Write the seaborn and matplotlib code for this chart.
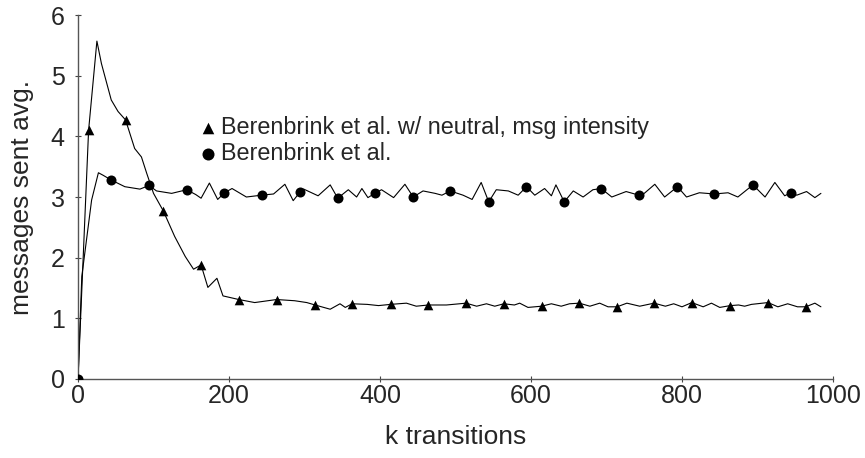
import pandas as pd
import seaborn as sns
import matplotlib.pyplot as plt

# Line data
tri_x = [0, 14, 25, 31, 44, 53, 63, 75, 84, 91, 100, 113, 128, 142, 153, 163, 172, 184, 192,
         213, 234, 263, 287, 303, 314, 334, 347, 354, 363, 383, 398, 414, 435, 448, 464, 488,
         514, 528, 541, 552, 564, 578, 585, 596, 614, 627, 640, 651, 664, 678, 691, 702, 714,
         727, 744, 763, 778, 789, 800, 813, 828, 839, 850, 864, 875, 883, 892, 914, 927, 940,
         953, 964, 976, 984]
tri_y = [0, 4.10, 5.57, 5.20, 4.60, 4.41, 4.27, 3.80, 3.66, 3.39, 3.06, 2.77, 2.35, 2.02, 1.81,
         1.88, 1.51, 1.66, 1.37, 1.31, 1.26, 1.31, 1.29, 1.26, 1.22, 1.15, 1.24, 1.18, 1.24,
         1.23, 1.21, 1.23, 1.25, 1.20, 1.22, 1.22, 1.25, 1.20, 1.24, 1.20, 1.24, 1.22, 1.25,
         1.18, 1.20, 1.24, 1.20, 1.24, 1.25, 1.20, 1.25, 1.19, 1.19, 1.25, 1.20, 1.25, 1.20,
         1.24, 1.19, 1.26, 1.19, 1.25, 1.18, 1.21, 1.22, 1.20, 1.23, 1.26, 1.19, 1.24, 1.19,
         1.19, 1.25, 1.19]

circ_x = [0, 5, 18, 27, 33, 44, 62, 82, 94, 104, 124, 144, 156, 163, 174, 185, 194, 204, 223,
          243, 259, 274, 285, 294, 299, 318, 334, 344, 358, 369, 376, 384, 393, 402, 418, 433,
          444, 457, 473, 482, 493, 510, 522, 534, 544, 554, 570, 583, 594, 605, 618, 627, 633,
          644, 656, 669, 682, 693, 707, 726, 743, 750, 764, 777, 794, 806, 823, 843, 861, 874,
          894, 910, 923, 936, 944, 952, 965, 976, 984]
circ_y = [0, 1.69, 2.95, 3.40, 3.36, 3.28, 3.17, 3.13, 3.19, 3.10, 3.06, 3.12, 3.04, 2.98, 3.23,
          2.96, 3.07, 3.14, 3.00, 3.03, 3.05, 3.21, 2.94, 3.08, 3.13, 3.02, 3.20, 2.98, 3.12,
          3.00, 3.14, 2.99, 3.06, 3.12, 2.99, 3.21, 3.00, 3.10, 3.06, 3.03, 3.10, 3.03, 2.96,
          3.24, 2.92, 3.12, 3.10, 3.03, 3.17, 3.03, 3.14, 3.02, 3.20, 2.92, 3.10, 3.00, 3.12,
          3.14, 3.00, 3.09, 3.03, 3.06, 3.21, 3.00, 3.17, 3.00, 3.07, 3.05, 3.07, 3.00, 3.20,
          3.00, 3.24, 3.02, 3.07, 3.03, 3.09, 2.99, 3.06]

# Marker positions
tri_mx = [14, 63, 113, 163, 213, 263, 314, 363, 414, 464, 514, 564, 614, 664, 714, 763, 813, 864, 914, 964]
tri_my = [4.10, 4.27, 2.77, 1.88, 1.31, 1.31, 1.22, 1.24, 1.23, 1.22, 1.25, 1.24, 1.20, 1.25,
          1.19, 1.25, 1.26, 1.21, 1.26, 1.19]
circ_mx = [0, 44, 94, 144, 194, 244, 294, 344, 393, 444, 493, 544, 594, 644, 693, 743, 794, 843, 894, 944]
circ_my = [0, 3.28, 3.19, 3.12, 3.07, 3.03, 3.08, 2.98, 3.06, 3.00, 3.10, 2.92, 3.17, 2.92,
           3.14, 3.03, 3.17, 3.05, 3.20, 3.07]

labels = ["Berenbrink et al. w/ neutral, msg intensity", "Berenbrink et al."]

sns.set_theme(style="ticks")
plt.rcParams["font.family"] = ["Liberation Sans", "DejaVu Sans"]

fig, ax = plt.subplots(figsize=(8.65, 4.58), dpi=100)

sns.lineplot(x=tri_x, y=tri_y, color="black", linewidth=0.8, ax=ax, sort=False)
sns.lineplot(x=circ_x, y=circ_y, color="black", linewidth=0.8, ax=ax, sort=False)

sns.scatterplot(x=tri_mx, y=tri_my, marker="^", color="black", s=48, linewidth=0,
                ax=ax, zorder=3, label=labels[0])
sns.scatterplot(x=circ_mx, y=circ_my, marker="o", color="black", s=52, linewidth=0,
                ax=ax, zorder=3, label=labels[1])

ax.set_xlim(0, 1000)
ax.set_ylim(0, 6)
ax.set_xticks([0, 200, 400, 600, 800, 1000])
ax.set_yticks([0, 1, 2, 3, 4, 5, 6])
ax.set_xlabel("k transitions", fontsize=19, labelpad=12)
ax.set_ylabel("messages sent avg.", fontsize=19, labelpad=12)
ax.tick_params(labelsize=18, direction="inout", length=5, width=0.8, color="#444444")
ax.tick_params(axis="x", pad=1)
ax.tick_params(axis="y", pad=7)

ax.legend(loc="upper left", bbox_to_anchor=(0.163, 0.722), frameon=False, fontsize=16.8,
          handlelength=0.6, handletextpad=0.25, labelspacing=0.12, borderaxespad=0,
          borderpad=0, markerscale=1.2)

# Spines
ax.spines["top"].set_visible(False)
ax.spines["right"].set_visible(False)
for side in ["left", "bottom"]:
    ax.spines[side].set_color("#555555")
    ax.spines[side].set_linewidth(1.0)

plt.subplots_adjust(left=0.0902, right=0.963, bottom=0.1725, top=0.9672)
plt.savefig("out.png", dpi=100)
